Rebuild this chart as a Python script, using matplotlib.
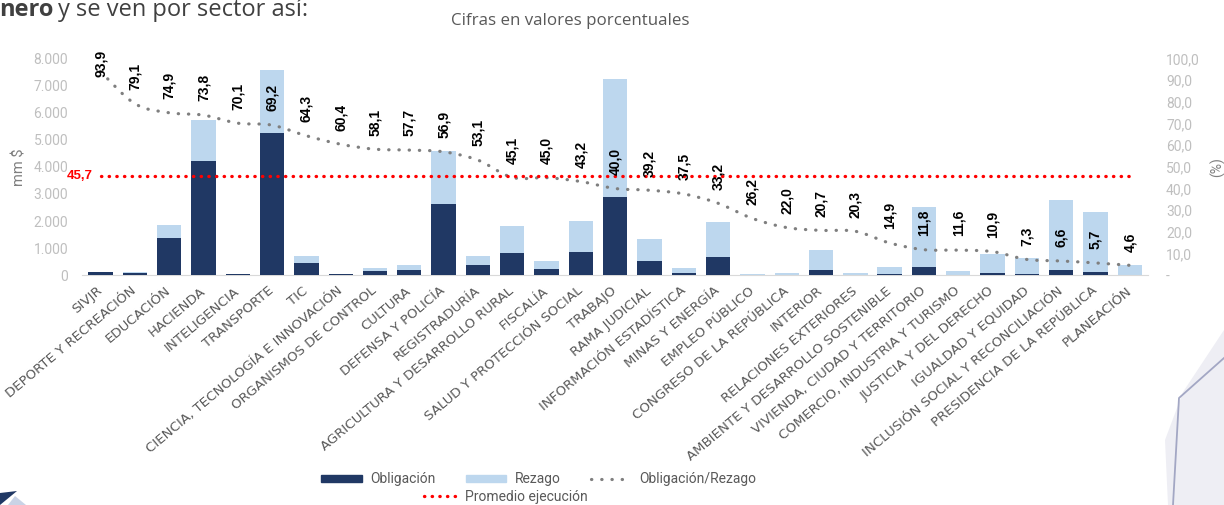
import numpy as np
import matplotlib.pyplot as plt
from matplotlib.path import Path
from matplotlib.patches import PathPatch, Polygon, Patch
from matplotlib.lines import Line2D

plt.rcParams['font.family'] = ['Roboto', 'DejaVu Sans']

# Data (mm $ and %)
sectores = ['SIVJR', 'DEPORTE Y RECREACIÓN', 'EDUCACIÓN', 'HACIENDA', 'INTELIGENCIA',
            'TRANSPORTE', 'TIC', 'CIENCIA, TECNOLOGÍA E INNOVACIÓN', 'ORGANISMOS DE CONTROL',
            'CULTURA', 'DEFENSA Y POLICÍA', 'REGISTRADURÍA', 'AGRICULTURA Y DESARROLLO RURAL',
            'FISCALÍA', 'SALUD Y PROTECCIÓN SOCIAL', 'TRABAJO', 'RAMA JUDICIAL',
            'INFORMACIÓN ESTADÍSTICA', 'MINAS Y ENERGÍA', 'EMPLEO PÚBLICO',
            'CONGRESO DE LA REPÚBLICA', 'INTERIOR', 'RELACIONES EXTERIORES',
            'AMBIENTE Y DESARROLLO SOSTENIBLE', 'VIVIENDA, CIUDAD Y TERRITORIO',
            'COMERCIO, INDUSTRIA Y TURISMO', 'JUSTICIA Y DEL DERECHO', 'IGUALDAD Y EQUIDAD',
            'INCLUSIÓN SOCIAL Y RECONCILIACIÓN', 'PRESIDENCIA DE LA REPÚBLICA', 'PLANEACIÓN']
rezago = [125, 125, 1855, 5725, 50, 7570, 710, 50, 275, 370, 4600, 715, 1800, 510, 2015,
          7230, 1340, 260, 1980, 50, 100, 925, 100, 310, 2520, 160, 775, 630, 2765, 2345, 370]
obligacion = [117, 99, 1390, 4225, 35, 5240, 457, 30, 160, 213, 2615, 380, 812, 230, 870,
              2890, 525, 97, 657, 13, 22, 191, 20, 46, 297, 19, 84, 46, 182, 134, 17]
porcentaje = [93.9, 79.1, 74.9, 73.8, 70.1, 69.2, 64.3, 60.4, 58.1, 57.7, 56.9, 53.1, 45.1,
              45.0, 43.2, 40.0, 39.2, 37.5, 33.2, 26.2, 22.0, 20.7, 20.3, 14.9, 11.8, 11.6,
              10.9, 7.3, 6.6, 5.7, 4.6]
promedio = 45.7

dark = '#203864'
light = '#BDD7EE'
grey_dots = '#7F7F7F'
tick_grey = '#BFBFBF'
text_grey = '#595959'

W, H = 1224, 505
fig = plt.figure(figsize=(W / 100, H / 100), dpi=100)
ax = fig.add_axes([82 / W, 1 - 275.3 / H, 1066 / W, 217 / H])
ax2 = ax.twinx()

x = np.arange(len(sectores))

# Bars: rezago behind, obligación in front
ax.bar(x, rezago, width=0.71, color=light, zorder=2)
ax.bar(x, obligacion, width=0.71, color=dark, zorder=3)

ax.set_xlim(-0.54, 30.53)
ax.set_ylim(0, 8000)
ax.set_yticks(np.arange(0, 8001, 1000))
ax.set_yticklabels([f'{v:,.0f}'.replace(',', '.') for v in np.arange(0, 8001, 1000)])
ax.tick_params(axis='y', length=0, pad=10, labelsize=10, labelcolor=tick_grey)
ax.set_xticks(x)
ax.set_xticklabels(sectores, rotation=40, ha='right', va='center', rotation_mode='anchor',
                   fontsize=9.6, color=text_grey, family=['DejaVu Sans'])
ax.tick_params(axis='x', length=0, pad=10)
for s in ['top', 'left', 'right']:
    ax.spines[s].set_visible(False)
ax.spines['bottom'].set_color('#D9D9D9')
ax.set_ylabel('mm $', fontsize=10.5, color='#7F7F7F')
ax.yaxis.set_label_coords(-0.0516, 0.5)

# Secondary axis (%)
ax2.set_ylim(0, 100)
ax2.set_yticks(np.arange(0, 101, 10))
ax2.set_yticklabels(['-'] + [f'{v:.1f}'.replace('.', ',') for v in np.arange(10, 101, 10)])
ax2.tick_params(axis='y', length=0, pad=13, labelsize=10, labelcolor=tick_grey)
for s in ['top', 'left', 'right', 'bottom']:
    ax2.spines[s].set_visible(False)
ax2.set_ylabel('(%)', fontsize=10, color='#7F7F7F')
ax2.yaxis.set_label_coords(1.058, 0.5)

# Smoothed dotted line (Bezier through the points, like Excel's smoothed line)
pts = np.column_stack([x, porcentaje]).astype(float)
verts = [pts[0]]
codes = [Path.MOVETO]
for i in range(len(pts) - 1):
    p0 = pts[i - 1] if i > 0 else pts[i]
    p3 = pts[i + 2] if i + 2 < len(pts) else pts[i + 1]
    c1 = pts[i] + (pts[i + 1] - p0) / 6
    c2 = pts[i + 1] - (p3 - pts[i]) / 6
    verts += [c1, c2, pts[i + 1]]
    codes += [Path.CURVE4] * 3
dots_grey = (0, (0.1, 3.1))
ax2.add_patch(PathPatch(Path(verts, codes), facecolor='none', edgecolor=grey_dots, lw=2.3,
                        linestyle=dots_grey, capstyle='round', zorder=4))

# Average line
dots_red = (0, (0.1, 2.2))
ax2.plot(x, [promedio] * len(x), color='red', lw=2.4, linestyle=dots_red,
         dash_capstyle='round', zorder=4)
ax2.text(-0.22, promedio, f'{promedio:.1f}'.replace('.', ','), color='red', fontsize=9.5,
         fontweight='bold', ha='right', va='center', family=['Liberation Sans'])

# Percentage labels above the line (first one pushed down to stay inside the chart)
for xi, p in zip(x, porcentaje):
    ax2.text(xi, min(p + 6.3, 91.4), f'{p:.1f}'.replace('.', ','), rotation=90,
             ha='center', va='bottom', fontsize=10, fontweight='bold', color='black',
             family=['Liberation Sans'], zorder=5)

# Titles (the slide sentence is cut at the top-left in the original)
fig.text(451 / W, 1 - 25 / H, 'Cifras en valores porcentuales', fontsize=12.2,
         color=text_grey, va='baseline', family=['Open Sans'])
fig.text(-1 / W, 1 - 16 / H, 'nero', fontsize=17, fontweight='bold', color='#404040',
         va='baseline', family=['Open Sans'])
fig.text(58 / W, 1 - 16 / H, 'y se ven por sector así:', fontsize=17, color='#404040',
         va='baseline', family=['Open Sans'])

# Legends
h1 = [Patch(color=dark, label='Obligación'),
      Patch(color=light, label='Rezago'),
      Line2D([], [], color=grey_dots, lw=2.3, linestyle=dots_grey, dash_capstyle='round',
             label='Obligación/Rezago')]
fig.legend(handles=h1, loc='center', bbox_to_anchor=(539 / W, 1 - 479 / H), ncol=3,
           frameon=False, fontsize=10, handlelength=2.9, handleheight=0.4,
           handletextpad=0.6, columnspacing=2.2, labelcolor=text_grey)
h2 = [Line2D([], [], color='red', lw=2.4, linestyle=dots_red, dash_capstyle='round',
             label='Promedio ejecución')]
fig.legend(handles=h2, loc='center', bbox_to_anchor=(506 / W, 1 - 497 / H), frameon=False,
           fontsize=10, handlelength=2.7, handletextpad=0.3, labelcolor=text_grey)

# Background decorations at the edges of the slide
fig.patches.append(Polygon([[1165 / W, 1 - 440 / H], [1183 / W, 1 - 392 / H],
                            [1224 / W, 1 - 330 / H], [1, 0], [1168 / W, 0]],
                           closed=True, transform=fig.transFigure, facecolor='#EEEEF4',
                           edgecolor='none', zorder=0))
fig.lines.append(Line2D([1173 / W, 1179 / W, 1224 / W], [0, 1 - 398 / H, 1 - 358 / H],
                        transform=fig.transFigure, color='#A3A7C4', lw=1.3))
fig.patches.append(Polygon([[0, 1 - 493 / H], [17 / W, 1 - 491 / H], [0, 0]], closed=True,
                           transform=fig.transFigure, facecolor=dark, edgecolor='none'))
fig.patches.append(Polygon([[15 / W, 1 - 496 / H], [26 / W, 0], [8 / W, 0]], closed=True,
                           transform=fig.transFigure, facecolor='#C9D3E6', edgecolor='none'))

fig.savefig('out.png', dpi=100)
